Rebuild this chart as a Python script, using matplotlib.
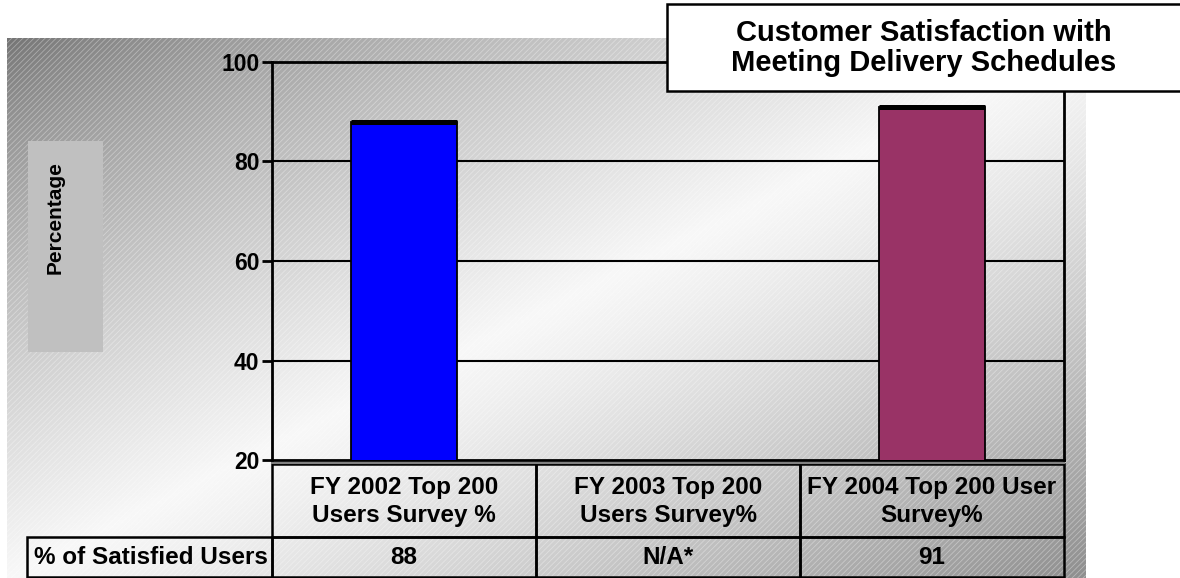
import numpy as np
import matplotlib
matplotlib.use("Agg")
from matplotlib import pyplot as plt
from matplotlib.patches import Rectangle

plt.rcParams['font.family'] = ['Liberation Sans', 'DejaVu Sans']
plt.rcParams['font.weight'] = 'bold'
plt.rcParams['hatch.linewidth'] = 0.6

# data
categories = ["FY 2002 Top 200\nUsers Survey %",
              "FY 2003 Top 200\nUsers Survey%",
              "FY 2004 Top 200 User\nSurvey%"]
satisfied = [88, np.nan, 91]
table_values = ["88", "N/A*", "91"]
row_label = "% of Satisfied Users"
bar_colors = ["#0000ff", "#993366", "#993366"]
yticks = [20, 40, 60, 80, 100]
title = "Customer Satisfaction with\nMeeting Delivery Schedules"
ylabel = "Percentage"

W, H = 1180, 578
fig = plt.figure(figsize=(W / 100, H / 100), dpi=100)

# gradient background (dark at top-left / bottom-right, light along the anti-diagonal)
bx0, bx1, by0, by1 = 7, 1086, 38, 578
bg = fig.add_axes([bx0 / W, 0, (bx1 - bx0) / W, (by1 - by0) / H])
bg.set_zorder(0)
nx, ny = 400, 200
u = np.linspace(0, 1, nx)[None, :]
v = np.linspace(0, 1, ny)[:, None]
t = (u + v) / 2
shade = np.where(t < 0.5,
                 0.45 + (0.97 - 0.45) * (t / 0.5) ** 0.75,
                 0.97 - (0.97 - 0.56) * ((t - 0.5) / 0.5) ** 1.2)
bg.imshow(shade, cmap="gray", vmin=0, vmax=1, aspect="auto",
          extent=[0, 1, 1, 0], interpolation="bilinear")
bg.add_patch(Rectangle((0, 0), 1, 1, fill=False, hatch="//////",
                       edgecolor=(1, 1, 1, 0.35), linewidth=0))
bg.set_xlim(0, 1)
bg.set_ylim(1, 0)
bg.axis("off")

# chart area
ax_l, ax_r, y20, y100 = 272, 1064, 460, 62
ax = fig.add_axes([ax_l / W, (H - y20) / H, (ax_r - ax_l) / W, (y20 - y100) / H])
ax.set_zorder(1)
ax.patch.set_alpha(0)
x = np.arange(len(categories))
vals = np.array(satisfied, dtype=float)
ok = ~np.isnan(vals)
bw = 0.405
ax.bar(x[ok], vals[ok], width=bw, color=[c for c, k in zip(bar_colors, ok) if k],
       edgecolor="black", linewidth=1.3, zorder=3)
ax.hlines(vals[ok], x[ok] - bw / 2, x[ok] + bw / 2, color="black", lw=3.6, zorder=4)
ax.set_ylim(20, 100)
ax.set_xlim(-0.5, len(categories) - 0.5)
ax.set_yticks(yticks)
for yv in yticks[1:-1]:
    ax.axhline(yv, color="black", lw=1.5, zorder=1)
ax.set_xticks([])
ax.tick_params(axis="y", direction="out", length=7, width=2, labelsize=16.5, pad=2)
for lab in ax.get_yticklabels():
    lab.set_fontweight("bold")
for s in ax.spines.values():
    s.set_linewidth(2)
    s.set_color("black")

# overlay in pixel coordinates: floor line, table, title box, axis label box
ov = fig.add_axes([0, 0, 1, 1])
ov.set_zorder(2)
ov.patch.set_alpha(0)
ov.set_xlim(0, W)
ov.set_ylim(H, 0)
ov.axis("off")

ov.plot([ax_l, ax_r], [462.5, 462.5], color="#808080", lw=1.5)

col_edges = np.linspace(ax_l, ax_r, len(categories) + 1)
r0, r1, r2 = 464, 537, 577
lw_t = 1.8
fs = 17.5
for i, (cat, val) in enumerate(zip(categories, table_values)):
    xa, xb = col_edges[i], col_edges[i + 1]
    ov.add_patch(Rectangle((xa, r0), xb - xa, r1 - r0, fill=False, ec="black", lw=lw_t))
    ov.add_patch(Rectangle((xa, r1), xb - xa, r2 - r1, fill=False, ec="black", lw=lw_t))
    ov.text((xa + xb) / 2, (r0 + r1) / 2 + 1, cat, ha="center", va="center",
            fontsize=fs, fontweight="bold", linespacing=1.25)
    ov.text((xa + xb) / 2, (r1 + r2) / 2 + 1, val, ha="center", va="center",
            fontsize=fs, fontweight="bold")
ov.add_patch(Rectangle((27, r1), ax_l - 27, r2 - r1, fill=False, ec="black", lw=lw_t))
ov.text((27 + ax_l) / 2 + 1, (r1 + r2) / 2 + 1, row_label, ha="center", va="center",
        fontsize=fs, fontweight="bold")

# title box
ov.add_patch(Rectangle((667, 4), W - 667 + 5, 87, facecolor="white", ec="black", lw=1.8))
ov.text((667 + W) / 2, 48, title, ha="center", va="center", fontsize=21,
        fontweight="bold", linespacing=1.1)

# y label box
ov.add_patch(Rectangle((28, 141), 75, 211, facecolor="#c0c0c0", ec="none"))
ov.text(55, 218, ylabel, rotation=90, ha="center", va="center", fontsize=15,
        fontweight="bold")

fig.savefig("out.png", dpi=100)
